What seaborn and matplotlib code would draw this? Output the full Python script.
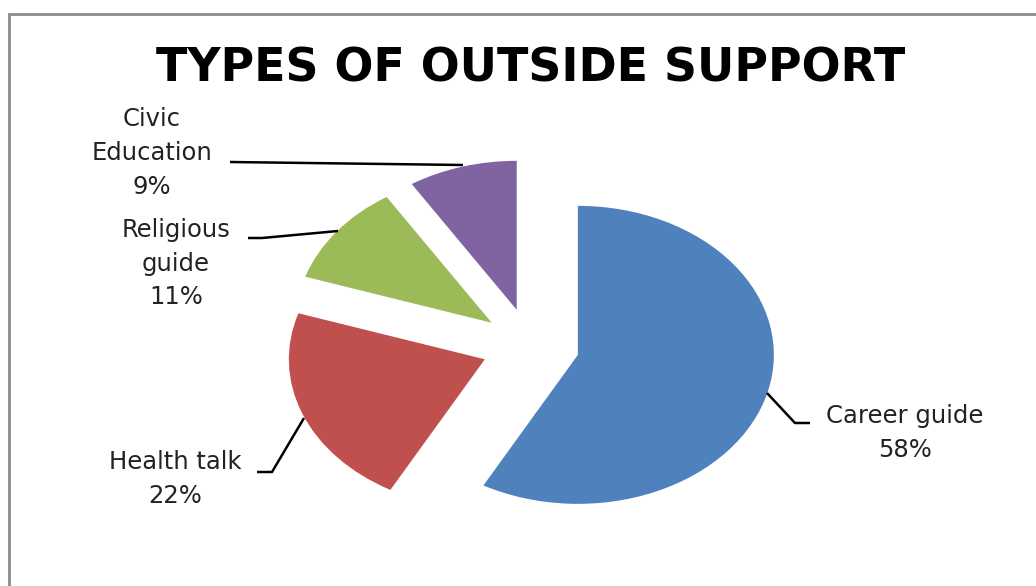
import matplotlib
matplotlib.use("Agg")
import matplotlib.pyplot as plt
import seaborn as sns
from matplotlib.patches import Rectangle

sns.set_theme(style="white")
plt.rcParams['font.family'] = ['DejaVu Sans']

# ---- data ----
categories = ["Career guide", "Health talk", "Religious guide", "Civic Education"]
values = [58, 22, 11, 9]
label_texts = ["Career guide\n58%", "Health talk\n22%", "Religious\nguide\n11%", "Civic\nEducation\n9%"]
colors = ["#4F81BD", "#C0504D", "#9BBB59", "#8064A2"]
title = "TYPES OF OUTSIDE SUPPORT"

W, H = 1036, 586
fig = plt.figure(figsize=(W / 100, H / 100), dpi=100)
ax = fig.add_axes([0, 0, 1, 1])

# pixel geometry of the pie (ellipse: stretched horizontally)
cx, cy, rx, ry = 530.4, 345.6, 196.0, 149.0

def px(x, y):
    return ((x - cx) / rx, (cy - y) / ry)

ax.pie(values, colors=colors, startangle=90, counterclock=False,
       explode=[0.25] * len(values), radius=1.0,
       wedgeprops=dict(linewidth=0))
ax.set_aspect('auto')
ax.set_xlim(px(0, 0)[0], px(W, 0)[0])
ax.set_ylim(px(0, H)[1], px(0, 0)[1])
ax.axis('off')

# frame
fig.patches.append(Rectangle((9 / W, -0.05), 1.1, (H - 14) / H + 0.05,
                             transform=fig.transFigure, fill=False,
                             edgecolor="#8c8c8c", linewidth=2, zorder=0))

# title
fig.text(531 / W, 1 - 82 / H, title, ha='center', va='baseline',
         fontsize=33, fontweight='bold', color='black')

# labels
label_pos = [(905, 433), (175, 479), (176, 264), (152, 153)]
for txt, (lx, ly) in zip(label_texts, label_pos):
    x, y = px(lx, ly)
    ax.text(x, y, txt, ha='center', va='center', multialignment='center',
            fontsize=17.5, color='#222222', linespacing=1.5)

# leader lines
leaders = [
    [(767, 393), (795, 423), (810, 423)],
    [(304, 418), (272, 472), (257, 472)],
    [(338, 231), (262, 238), (248, 238)],
    [(463, 165), (230, 162)],
]
for pts in leaders:
    xs, ys = zip(*[px(a, b) for a, b in pts])
    ax.plot(xs, ys, color='black', linewidth=1.8, solid_capstyle='butt')

fig.savefig("out.png", dpi=100)
